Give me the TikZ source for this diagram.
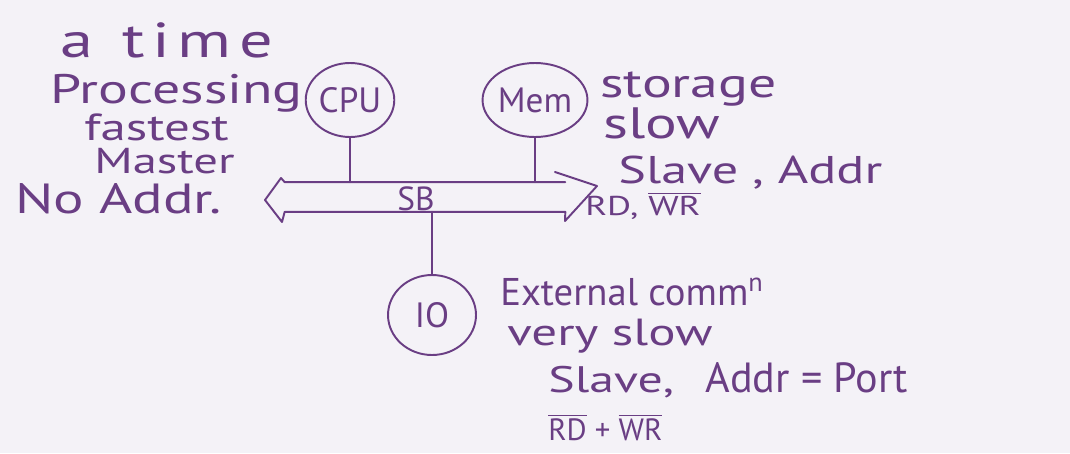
\documentclass[tikz,border=0pt]{standalone}
\usepackage{fontspec}
\setmainfont{PT Sans}
\newfontfamily\handfont{PT Sans}[FakeStretch=1.35]
\usetikzlibrary{shapes.geometric, calc}
\definecolor{ink}{RGB}{106,62,132}
\definecolor{paper}{RGB}{244,242,247}
\newcommand{\inkfont}[1]{\fontsize{#1}{#1}\selectfont}
\newcommand{\sig}[1]{$\overline{\mbox{#1}}$}

\begin{document}
\begin{tikzpicture}[x=0.02cm, y=-0.02cm,
    unit/.style={ellipse, draw=ink, line width=1.1pt, inner sep=0pt, text=ink, font=\inkfont{20pt}},
    note/.style={text=ink, anchor=base west, inner sep=0pt, font=\handfont\inkfont{#1}},
    plain/.style={text=ink, anchor=base west, inner sep=0pt, font=\inkfont{#1}},
    wire/.style={ink, line width=1.1pt, line join=round, line cap=round},
  ]
  % sheet
  \fill[paper] (0,0) rectangle (1070,453);
  \useasboundingbox (0,0) rectangle (1070,453);

  % units on the bus
  \node[unit, minimum width=1.68cm, minimum height=1.48cm] (cpu) at (350,100) {CPU};
  \node[unit, minimum width=1.72cm, minimum height=1.48cm] (mem) at (535,100) {Mem};
  \node[unit, minimum width=1.76cm, minimum height=1.6cm] (io) at (432,315) {IO};

  % system bus
  \node[inner sep=0pt, minimum width=5.6cm, minimum height=0.58cm] (bus) at (425,197) {};
  \node[plain=19pt, anchor=base] (sb) at (416,210) {SB};
  \coordinate (ltip) at (265,200);
  \coordinate (rtip) at (597,186);
  \draw[wire] (555,172) -- (rtip) -- (565,221) -- (bus.south east) -- (bus.south west)
    -- (282,222) -- (ltip) -- (281,178) -- (bus.north west) -- (bus.north east);
  \draw[wire] (cpu.south) -- (cpu.south |- bus.north);
  \draw[wire] (mem.south) -- (mem.south |- bus.north);
  \draw[wire] (io.north) -- (io.north |- bus.south);

  % CPU side
  \node[note=28pt] (atime) at (60,57) {a\hspace{0.6em}{\addfontfeature{LetterSpace=15}time}};
  \node[note=23.5pt] (proc) at (50,103) {Processing};
  \node[note=21.5pt] (fast) at (84,140) {fastest};
  \node[note=20.5pt] (mast) at (94,173) {Master};
  \node[note=24pt] (noaddr) at (15,213) {No Addr.};

  % memory side
  \node[note=23.5pt] (stor) at (600,97) {storage};
  \node[note=25pt] (slow) at (603,138) {slow};
  \node[note=22pt] (slave) at (618,183) {Slave , Addr};
  \node[note=15.5pt] (rdwr) at (585,215) {RD, \sig{WR}};

  % IO side
  \node[plain=22pt] (ext) at (500,305) {External comm$^{\mbox{\inkfont{15pt}n}}$};
  \node[note=21.5pt] (vslow) at (507,345) {very slow};
  \node[note=21pt] (slaveio) at (548,392) {Slave,};
  \node[plain=24pt] (port) at (705,392) {Addr = Port};
  \node[plain=17.5pt] (rdwrio) at (548,440) {\sig{RD} + \sig{WR}};
\end{tikzpicture}
\end{document}
